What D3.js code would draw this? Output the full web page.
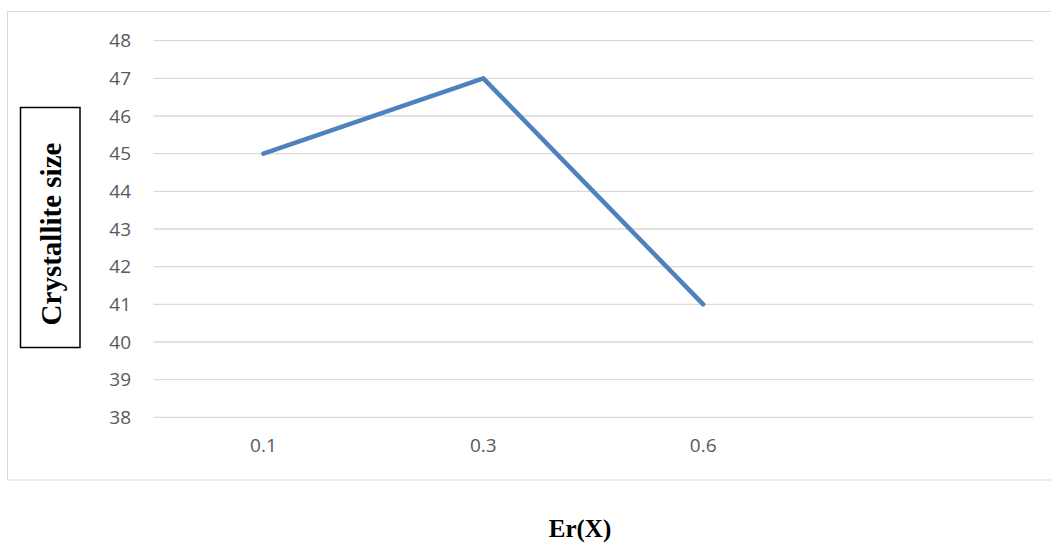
<!DOCTYPE html>
<html>
<head>
<meta charset="utf-8">
<script src="https://cdn.jsdelivr.net/npm/d3@7"></script>
<style>
  html, body { margin: 0; padding: 0; background: #fff; }
  svg { display: block; }
</style>
</head>
<body>
<svg id="chart" width="1051" height="543"></svg>
<script>
// ---- data ----
const categories = ["0.1", "0.3", "0.6", ""];
const crystalliteSize = [45, 47, 41];
const yTicks = [38, 39, 40, 41, 42, 43, 44, 45, 46, 47, 48];
const yTitle = "Crystallite size";
const xTitle = "Er(X)";

const svg = d3.select("#chart");

// outer chart border
svg.append("rect")
  .attr("x", 7.5).attr("y", 11.5)
  .attr("width", 1050).attr("height", 468.5)
  .attr("fill", "#fff").attr("stroke", "#d9d9d9").attr("stroke-width", 1);

const plot = { left: 153.5, right: 1033, top: 40.7, bottom: 417.3 };

const x = d3.scaleBand()
  .domain(categories)
  .range([plot.left, plot.right])
  .paddingInner(0).paddingOuter(0);

const y = d3.scaleLinear()
  .domain([38, 48])
  .range([plot.bottom, plot.top]);

// gridlines
svg.append("g")
  .selectAll("line")
  .data(yTicks)
  .join("line")
  .attr("x1", plot.left).attr("x2", plot.right)
  .attr("y1", d => y(d)).attr("y2", d => y(d))
  .attr("stroke", "#d9d9d9").attr("stroke-width", 1.3);

// y axis labels
const yAxis = d3.axisLeft(y).tickValues(yTicks).tickSize(0).tickPadding(0);
const gy = svg.append("g")
  .attr("transform", `translate(131,0)`)
  .call(yAxis);
gy.select(".domain").remove();
gy.selectAll("text")
  .attr("fill", "#595959")
  .style("font-family", "'Open Sans', sans-serif")
  .style("font-size", "19px");

// x axis labels
const xAxis = d3.axisBottom(x).tickSize(0).tickPadding(0);
const gx = svg.append("g")
  .attr("transform", `translate(0,438)`)
  .call(xAxis);
gx.select(".domain").remove();
gx.selectAll("text")
  .attr("fill", "#595959")
  .style("font-family", "'Open Sans', sans-serif")
  .style("font-size", "19px");

// line
const line = d3.line()
  .x((d, i) => x(categories[i]) + x.bandwidth() / 2)
  .y(d => y(d));

svg.append("path")
  .datum(crystalliteSize)
  .attr("d", line)
  .attr("fill", "none")
  .attr("stroke", "#4f81bd")
  .attr("stroke-width", 4.5)
  .attr("stroke-linejoin", "round")
  .attr("stroke-linecap", "round");

// y title box
svg.append("rect")
  .attr("x", 20.5).attr("y", 107.5)
  .attr("width", 59.5).attr("height", 240)
  .attr("fill", "#fff").attr("stroke", "#000").attr("stroke-width", 1.5);

svg.append("text")
  .attr("transform", `translate(61,234) rotate(-90)`)
  .attr("text-anchor", "middle")
  .style("font-family", "'Liberation Serif', 'Times New Roman', serif")
  .style("font-weight", "bold")
  .style("font-size", "29px")
  .attr("fill", "#000")
  .text(yTitle);

// x title
svg.append("text")
  .attr("x", 580).attr("y", 537)
  .attr("text-anchor", "middle")
  .style("font-family", "'Liberation Serif', 'Times New Roman', serif")
  .style("font-weight", "bold")
  .style("font-size", "25px")
  .attr("fill", "#000")
  .text(xTitle);
</script>
</body>
</html>
